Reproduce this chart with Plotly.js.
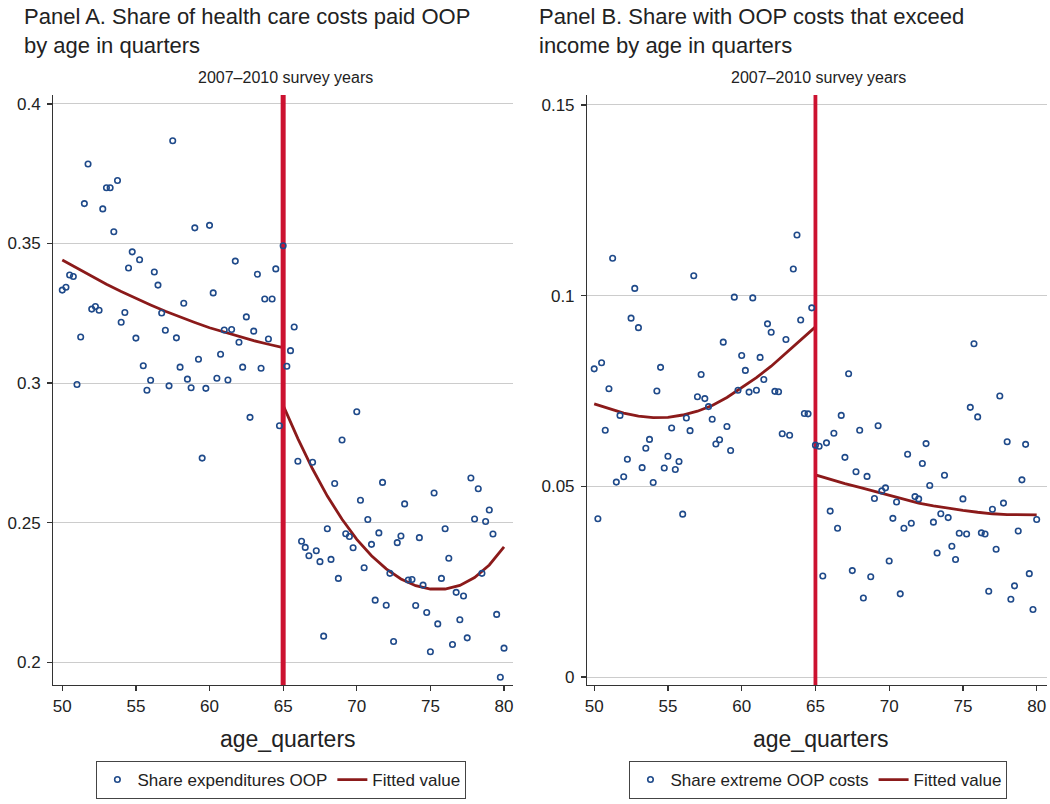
<!DOCTYPE html>
<html>
<head>
<meta charset="utf-8">
<script src="https://cdn.plot.ly/plotly-3.0.1.min.js"></script>
<style>html,body{margin:0;padding:0;background:#fff;}#chart{width:1050px;height:804px;}</style>
</head>
<body>
<div id="chart"></div>
<script>
// Age in quarters (x categories), 50.00 ... 80.00
const ageQuarters = [
50.00,50.25,50.50,50.75,51.00,51.25,51.50,51.75,52.00,52.25,52.50,52.75,
53.00,53.25,53.50,53.75,54.00,54.25,54.50,54.75,55.00,55.25,55.50,55.75,
56.00,56.25,56.50,56.75,57.00,57.25,57.50,57.75,58.00,58.25,58.50,58.75,
59.00,59.25,59.50,59.75,60.00,60.25,60.50,60.75,61.00,61.25,61.50,61.75,
62.00,62.25,62.50,62.75,63.00,63.25,63.50,63.75,64.00,64.25,64.50,64.75,
65.00,65.25,65.50,65.75,66.00,66.25,66.50,66.75,67.00,67.25,67.50,67.75,
68.00,68.25,68.50,68.75,69.00,69.25,69.50,69.75,70.00,70.25,70.50,70.75,
71.00,71.25,71.50,71.75,72.00,72.25,72.50,72.75,73.00,73.25,73.50,73.75,
74.00,74.25,74.50,74.75,75.00,75.25,75.50,75.75,76.00,76.25,76.50,76.75,
77.00,77.25,77.50,77.75,78.00,78.25,78.50,78.75,79.00,79.25,79.50,79.75,
80.00];

// Panel A: share of health care costs paid OOP
const shareOOP = [
0.3333,0.3343,0.3387,0.3382,0.2995,0.3165,0.3643,0.3785,0.3265,0.3274,0.3261,0.3624,
0.3700,0.3700,0.3542,0.3726,0.3218,0.3253,0.3412,0.3470,0.3161,0.3442,0.3062,0.2974,
0.3010,0.3398,0.3351,0.3251,0.3189,0.2990,0.3868,0.3162,0.3057,0.3286,0.3014,0.2983,
0.3556,0.3085,0.2731,0.2981,0.3565,0.3323,0.3017,0.3103,0.3190,0.3011,0.3192,0.3437,
0.3146,0.3057,0.3237,0.2877,0.3186,0.3390,0.3053,0.3301,0.3158,0.3301,0.3409,0.2847,
0.3492,0.3060,0.3116,0.3201,0.2720,0.2433,0.2411,0.2381,0.2716,0.2399,0.2360,0.2093,
0.2478,0.2368,0.2640,0.2300,0.2796,0.2460,0.2450,0.2410,0.2897,0.2580,0.2338,0.2511,
0.2422,0.2222,0.2463,0.2644,0.2204,0.2318,0.2074,0.2428,0.2452,0.2567,0.2294,0.2296,
0.2203,0.2446,0.2276,0.2178,0.2037,0.2606,0.2137,0.2300,0.2478,0.2372,0.2063,0.2250,
0.2152,0.2237,0.2087,0.2660,0.2513,0.2621,0.2318,0.2504,0.2545,0.2459,0.2171,0.1946,
0.2050];

// Panel B: share with extreme OOP costs
const shareExtreme = [
0.0808,0.0415,0.0824,0.0647,0.0756,0.1098,0.0511,0.0686,0.0525,0.0571,0.0941,0.1019,
0.0916,0.0549,0.0600,0.0623,0.0510,0.0750,0.0812,0.0548,0.0579,0.0653,0.0544,0.0565,
0.0427,0.0679,0.0646,0.1052,0.0735,0.0793,0.0730,0.0709,0.0676,0.0611,0.0622,0.0878,
0.0657,0.0594,0.0996,0.0752,0.0843,0.0804,0.0747,0.0994,0.0752,0.0838,0.0780,0.0926,
0.0904,0.0749,0.0748,0.0638,0.0885,0.0634,0.1070,0.1159,0.0936,0.0691,0.0690,0.0968,
0.0608,0.0605,0.0265,0.0614,0.0435,0.0639,0.0390,0.0686,0.0576,0.0795,0.0279,0.0538,
0.0647,0.0207,0.0526,0.0263,0.0468,0.0659,0.0488,0.0496,0.0304,0.0416,0.0459,0.0218,
0.0390,0.0584,0.0403,0.0473,0.0467,0.0560,0.0612,0.0502,0.0406,0.0325,0.0428,0.0529,
0.0418,0.0343,0.0308,0.0377,0.0467,0.0375,0.0707,0.0874,0.0682,0.0378,0.0375,0.0225,
0.0440,0.0335,0.0737,0.0456,0.0617,0.0204,0.0239,0.0383,0.0517,0.0610,0.0271,0.0177,
0.0413];

// Fitted values (read at whole years; both sides of 65)
const fitAge = [50,51,52,53,54,55,56,57,58,59,60,61,62,63,64,65,
                65,66,67,68,69,70,71,72,73,74,75,76,77,78,79,80];
const fitA = [0.3441,0.3411,0.3382,0.3354,0.3328,0.3303,0.3280,0.3257,0.3236,0.3217,0.3198,0.3182,0.3166,0.3152,0.3139,0.3127,
              0.2920,0.2801,0.2692,0.2595,0.2512,0.2440,0.2381,0.2334,0.2298,0.2274,0.2262,0.2262,0.2275,0.2303,0.2348,0.2413];
const fitB = [0.0716,0.0703,0.0692,0.0684,0.0680,0.0681,0.0687,0.0697,0.0712,0.0733,0.0758,0.0785,0.0815,0.0850,0.0884,0.0918,
              0.0530,0.0518,0.0507,0.0497,0.0487,0.0475,0.0465,0.0456,0.0449,0.0442,0.0437,0.0432,0.0428,0.0426,0.0425,0.0425];

const xTicks = [50,55,60,65,70,75,80];
const yTicksA = [0.2,0.25,0.3,0.35,0.4];
const yTickTextA = ["0.2","0.25","0.3","0.35","0.4"];
const yTicksB = [0,0.05,0.1,0.15];
const yTickTextB = ["0","0.05","0.1","0.15"];
const cutoffAge = 65;
const xRangeA = [49.39, 80.63], yRangeA = [0.1918, 0.4032];
const xRangeB = [49.53, 80.68], yRangeB = [-0.0021, 0.1526];

const FONT = "Liberation Sans, Arial, Helvetica, sans-serif";
const DOT = "#1f4a8a";
const FIT = "#8b1a1a";
const CUT = "#cc1230";

const markerStyle = {symbol:"circle-open", size:5.5, color:DOT, line:{width:1.6, color:DOT}};

const traces = [
  // Panel A
  {x:fitAge, y:fitA, xaxis:"x", yaxis:"y", type:"scatter", mode:"lines",
   line:{color:FIT, width:2.8}, name:"Fitted value", legend:"legend", legendrank:2},
  {x:[cutoffAge, cutoffAge], y:yRangeA, xaxis:"x", yaxis:"y", type:"scatter", mode:"lines",
   line:{color:CUT, width:5}, showlegend:false, hoverinfo:"skip"},
  {x:ageQuarters, y:shareOOP, xaxis:"x", yaxis:"y", type:"scatter", mode:"markers",
   marker:markerStyle, name:"Share expenditures OOP", legend:"legend", legendrank:1},
  // Panel B
  {x:fitAge, y:fitB, xaxis:"x2", yaxis:"y2", type:"scatter", mode:"lines",
   line:{color:FIT, width:2.8}, name:"Fitted value", legend:"legend2", legendrank:2},
  {x:[cutoffAge, cutoffAge], y:yRangeB, xaxis:"x2", yaxis:"y2", type:"scatter", mode:"lines",
   line:{color:CUT, width:3.8}, showlegend:false, hoverinfo:"skip"},
  {x:ageQuarters, y:shareExtreme, xaxis:"x2", yaxis:"y2", type:"scatter", mode:"markers",
   marker:markerStyle, name:"Share extreme OOP costs", legend:"legend2", legendrank:1}
];

const axisCommon = {
  showline:true, linecolor:"#333", linewidth:1.3, ticks:"outside", ticklen:5,
  tickcolor:"#333", tickwidth:1.2, zeroline:false,
  tickfont:{family:FONT, size:17, color:"#222"}
};

const yDom = [0.148, 0.8818];

const legendCommon = {
  orientation:"h", yanchor:"top", xanchor:"center", y:0.0535,
  bordercolor:"#444", borderwidth:1, bgcolor:"#fff", traceorder:"normal",
  font:{family:FONT, size:17, color:"#222"}, itemclick:false
};

const layout = {
  width:1050, height:804,
  margin:{l:0, r:0, t:0, b:0},
  paper_bgcolor:"#fff", plot_bgcolor:"#fff",
  font:{family:FONT, color:"#222"},
  showlegend:true,
  xaxis: Object.assign({}, axisCommon, {domain:[0.05076,0.48886], range:xRangeA, anchor:"y",
    tickvals:xTicks, showgrid:false}),
  yaxis: Object.assign({}, axisCommon, {domain:yDom, range:yRangeA, anchor:"x",
    tickvals:yTicksA, ticktext:yTickTextA, showgrid:true, gridcolor:"#cccccc", gridwidth:1, ticklabelstandoff:3}),
  xaxis2: Object.assign({}, axisCommon, {domain:[0.5593,0.99686], range:xRangeB, anchor:"y2",
    tickvals:xTicks, showgrid:false}),
  yaxis2: Object.assign({}, axisCommon, {domain:yDom, range:yRangeB, anchor:"x2",
    tickvals:yTicksB, ticktext:yTickTextB, showgrid:true, gridcolor:"#cccccc", gridwidth:1, ticklabelstandoff:3}),
  legend: Object.assign({}, legendCommon, {x:0.268}),
  legend2: Object.assign({}, legendCommon, {x:0.7795}),
  annotations:[
    {text:"Panel A. Share of health care costs paid OOP<br>by age in quarters", xref:"paper", yref:"paper",
     x:22/1050, y:1-2/804, xanchor:"left", yanchor:"top", align:"left", showarrow:false,
     font:{family:FONT, size:22, color:"#222"}},
    {text:"Panel B. Share with OOP costs that exceed<br>income by age in quarters", xref:"paper", yref:"paper",
     x:537/1050, y:1-2/804, xanchor:"left", yanchor:"top", align:"left", showarrow:false,
     font:{family:FONT, size:22, color:"#222"}},
    {text:"2007–2010 survey years", xref:"paper", yref:"paper", x:285/1050, y:1-78/804,
     xanchor:"center", yanchor:"middle", showarrow:false, font:{family:FONT, size:16, color:"#222"}},
    {text:"2007–2010 survey years", xref:"paper", yref:"paper", x:818/1050, y:1-78/804,
     xanchor:"center", yanchor:"middle", showarrow:false, font:{family:FONT, size:16, color:"#222"}},
    {text:"age_quarters", xref:"paper", yref:"paper", x:288/1050, y:1-739/804,
     xanchor:"center", yanchor:"middle", showarrow:false, font:{family:FONT, size:23, color:"#222"}},
    {text:"age_quarters", xref:"paper", yref:"paper", x:821/1050, y:1-739/804,
     xanchor:"center", yanchor:"middle", showarrow:false, font:{family:FONT, size:23, color:"#222"}}
  ]
};

Plotly.newPlot("chart", traces, layout, {displayModeBar:false, staticPlot:true});
</script>
</body>
</html>
